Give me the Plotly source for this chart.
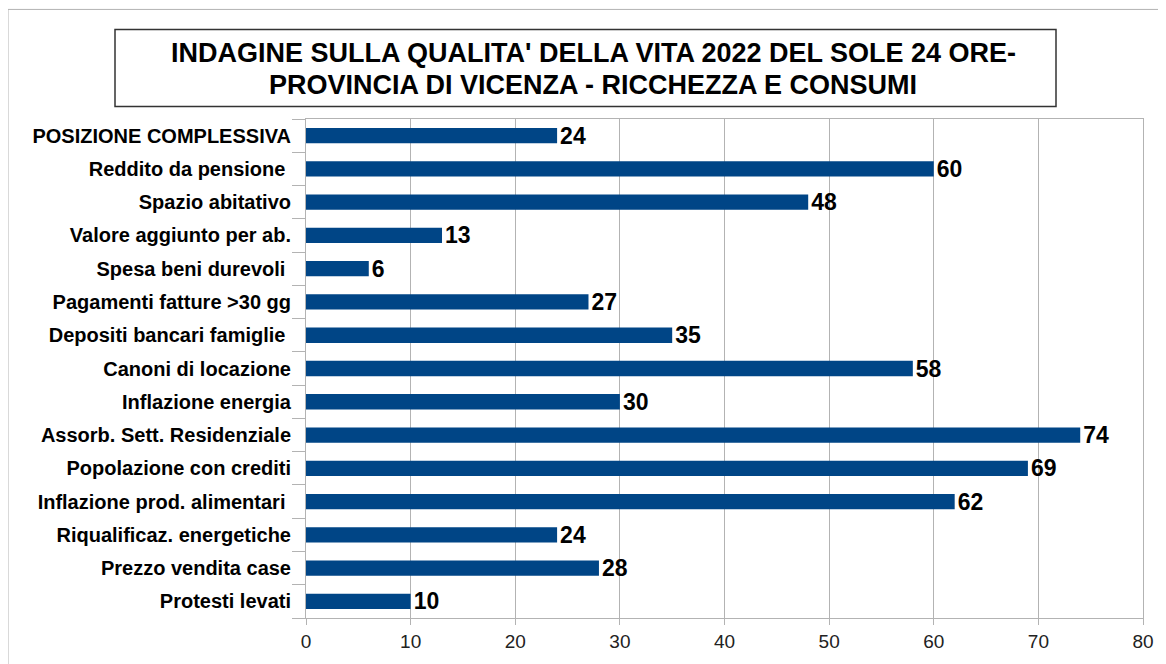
import plotly.graph_objects as go

categories = [
    "POSIZIONE COMPLESSIVA",
    "Reddito da pensione\u00a0",
    "Spazio abitativo",
    "Valore aggiunto per ab.",
    "Spesa beni durevoli\u00a0",
    "Pagamenti fatture >30 gg",
    "Depositi bancari famiglie\u00a0",
    "Canoni di locazione",
    "Inflazione energia",
    "Assorb. Sett. Residenziale",
    "Popolazione con crediti",
    "Inflazione prod. alimentari\u00a0",
    "Riqualificaz. energetiche",
    "Prezzo vendita case",
    "Protesti levati",
]
values = [24, 60, 48, 13, 6, 27, 35, 58, 30, 74, 69, 62, 24, 28, 10]
x_ticks = [0, 10, 20, 30, 40, 50, 60, 70, 80]
title_lines = ["INDAGINE SULLA QUALITA' DELLA VITA 2022 DEL SOLE 24 ORE-",
               "PROVINCIA DI VICENZA - RICCHEZZA E CONSUMI"]

OFF = 8  # page body margin
W, H = 1166 - OFF, 664 - OFF
L, R, T, B = 306 - OFF, 1143 - OFF, 119.4 - OFF, 617.6 - OFF
pw, ph = R - L, B - T

def px(x):
    return (x - OFF - L) / pw

def py(y):
    return (B - (y - OFF)) / ph

fig = go.Figure()
fig.add_trace(go.Bar(
    y=categories, x=values, orientation="h",
    marker=dict(color="#004586", line=dict(width=0)),
    text=[str(v) for v in values], texttemplate="<b>%{x}</b>",
    textposition="outside", constraintext="none",
    textfont=dict(family="Liberation Sans", size=23, color="#000000"),
    cliponaxis=False, width=0.46,
))

fig.update_layout(
    width=W, height=H,
    margin=dict(l=L, r=W - R, t=T, b=H - B),
    paper_bgcolor="white", plot_bgcolor="white",
    showlegend=False,
    font=dict(family="Liberation Sans"),
)
fig.update_xaxes(
    range=[0, 80], tickvals=x_ticks, ticktext=[str(t) for t in x_ticks],
    showgrid=True, gridcolor="#b3b3b3", gridwidth=1,
    showline=True, linecolor="#b3b3b3", linewidth=1, mirror=True,
    ticks="outside", ticklen=6, tickcolor="#b3b3b3",
    tickfont=dict(family="Liberation Sans", size=19, color="#222222"),
    zeroline=False,
)
fig.update_yaxes(
    categoryorder="array", categoryarray=categories, autorange="reversed",
    tickvals=categories, ticktext=["<b>" + c + "</b>" for c in categories],
    showline=True, linecolor="#b3b3b3", linewidth=1, mirror=True,
    ticks="outside", ticklen=13, tickcolor="#b3b3b3", tickson="boundaries",
    tickfont=dict(family="Liberation Sans", size=20, color="#000000"),
    ticklabelstandoff=10,
    showgrid=False,
)

# outer frame
fig.add_shape(type="rect", xref="paper", yref="paper",
              x0=px(8), x1=px(1190), y0=py(690), y1=py(10),
              line=dict(color="#b3b3b3", width=1), fillcolor="rgba(0,0,0,0)", layer="below")
# title box
fig.add_shape(type="rect", xref="paper", yref="paper",
              x0=px(115), x1=px(1056), y0=py(107), y1=py(30),
              line=dict(color="#333333", width=1.5), fillcolor="white")
for line, yc in zip(title_lines, [54, 85]):
    fig.add_annotation(xref="paper", yref="paper", x=px(593), y=py(yc),
                       text="<b>" + line + "</b>",
                       showarrow=False, xanchor="center", yanchor="middle",
                       font=dict(family="Liberation Sans", size=27, color="#000000"))

fig.write_html("out.html")
